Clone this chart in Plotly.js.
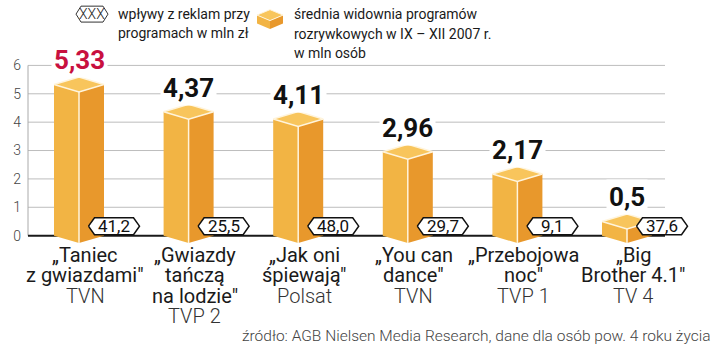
<!DOCTYPE html>
<html><head><meta charset="utf-8">
<script src="https://cdn.plot.ly/plotly-3.0.1.min.js"></script>
<style>html,body{margin:0;padding:0;background:#fff}</style>
</head><body><div id="chart" style="width:720px;height:351px"></div>
<script>
// ---- data ----
const programLines = [['„Taniec','z gwiazdami"'],['„Gwiazdy','tańczą','na lodzie"'],['„Jak oni','śpiewają"'],['„You can','dance"'],['„Przebojowa','noc"'],['„Big','Brother 4.1"']];
const stations = ['TVN','TVP 2','Polsat','TVN','TVP 1','TV 4'];
const audience = [5.33, 4.37, 4.11, 2.96, 2.17, 0.5];
const adRevenue = [41.2, 25.5, 48.0, 29.7, 9.1, 37.6];
const yTicks = [0, 1, 2, 3, 4, 5, 6];
const legendRevenue = ['wpływy z reklam przy', 'programach w mln zł'];
const legendAudience = ['średnia widownia programów', 'rozrywkowych w IX – XII 2007 r.', 'w mln osób'];
const sourceText = 'źródło: AGB Nielsen Media Research, dane dla osób pow. 4 roku życia';

// ---- geometry ----
const W = 720, H = 351;
const PL = 28, PR = 705, PT = 63.6, PB = 247.4;
const GRID_END = 665;
const xRange = [-0.4653, 5.7117], yRange = [-0.4, 6.05];
const pxX = (PR - PL) / (xRange[1] - xRange[0]);
const pxY = (PB - PT) / (yRange[1] - yRange[0]);
const hw = 25 / pxX, dy = 7.5 / pxY;
const FONT = 'Roboto, "Open Sans", sans-serif';
const C_TOP = '#F8C55C', C_LEFT = '#F2B444', C_RIGHT = '#E8982C', C_RED = '#C8103F', C_EDGE = '#FFF4DC';
const px2x = p => (p - PL) / (PR - PL);
const px2y = p => (PB - p) / (PB - PT);

const cats = audience.map((_, i) => i);

function polys(fn) {
  const xs = [], ys = [];
  cats.forEach((i) => {
    const pts = fn(i, audience[i]);
    pts.forEach(p => { xs.push(p[0]); ys.push(p[1]); });
    xs.push(null); ys.push(null);
  });
  return {x: xs, y: ys};
}
const leftF = polys((i, v) => [[i - hw, 0], [i - hw, v], [i, v - dy], [i, -dy]]);
const rightF = polys((i, v) => [[i, -dy], [i, v - dy], [i + hw, v], [i + hw, 0]]);
const topF = polys((i, v) => [[i - hw, v], [i, v + dy], [i + hw, v], [i, v - dy], [i - hw, v]]);
const frontE = polys((i, v) => [[i, -dy], [i, v - dy]]);

// hexagon badges (revenue), placed to the right of each bar
const hexOff = 35 / pxX, hexTip = 25.5 / pxX, hexSh = 19.5 / pxX;
const yc = 9.5 / pxY, hh = 8.5 / pxY;
const hexF = polys((i) => {
  const c = i + hexOff;
  return [[c - hexTip, yc], [c - hexSh, yc + hh], [c + hexSh, yc + hh], [c + hexTip, yc], [c + hexSh, yc - hh], [c - hexSh, yc - hh], [c - hexTip, yc]];
});

const traces = [
  {type: 'scatter', mode: 'lines', x: leftF.x, y: leftF.y, fill: 'toself', fillcolor: C_LEFT, line: {width: 0}, hoverinfo: 'skip', showlegend: false},
  {type: 'scatter', mode: 'lines', x: rightF.x, y: rightF.y, fill: 'toself', fillcolor: C_RIGHT, line: {width: 0}, hoverinfo: 'skip', showlegend: false},
  {type: 'scatter', mode: 'lines', x: frontE.x, y: frontE.y, line: {width: 1.5, color: C_EDGE}, hoverinfo: 'skip', showlegend: false},
  {type: 'scatter', mode: 'lines', x: topF.x, y: topF.y, fill: 'toself', fillcolor: C_TOP, line: {width: 1.5, color: C_EDGE}, hoverinfo: 'skip', showlegend: false},
  {type: 'scatter', mode: 'lines', x: hexF.x, y: hexF.y, fill: 'toself', fillcolor: '#fff', line: {width: 1.5, color: '#111'}, hoverinfo: 'skip', showlegend: false}
];

const shapes = [];
const annotations = [];

// gridlines (ending before the right margin), zero line, y axis line
yTicks.forEach(t => {
  if (t === 0) return;
  shapes.push({type: 'line', xref: 'paper', yref: 'y', x0: 0, x1: px2x(GRID_END), y0: t, y1: t, line: {color: '#bdbdbd', width: 1}, layer: 'below'});
});
shapes.push({type: 'line', xref: 'paper', yref: 'y', x0: 0, x1: 0, y0: 0, y1: 6, line: {color: '#aaa', width: 1}, layer: 'below'});
shapes.push({type: 'line', xref: 'paper', yref: 'y', x0: 0, x1: px2x(GRID_END), y0: 0, y1: 0, line: {color: '#1a1a1a', width: 2}, layer: 'below'});

// hexagon texts
cats.forEach(i => {
  annotations.push({x: i + hexOff, y: yc, xref: 'x', yref: 'y', text: adRevenue[i].toFixed(1).replace('.', ','), showarrow: false, xanchor: 'center', yanchor: 'middle', font: {family: FONT, size: 17, color: '#111'}});
});

// value labels
cats.forEach(i => {
  annotations.push({x: i, y: audience[i], xref: 'x', yref: 'y', yshift: 24, text: String(audience[i]).replace('.', ','), showarrow: false, xanchor: 'center', yanchor: 'middle', bgcolor: '#fff', borderpad: 2, font: {family: FONT, size: 26, weight: 700, color: i === 0 ? C_RED : '#111'}});
});

// category labels
cats.forEach(i => {
  const lines = programLines[i].concat([stations[i]]);
  lines.forEach((t, k) => {
    const isSt = k === lines.length - 1;
    annotations.push({x: i, y: 0, xref: 'x', yref: 'y', xshift: 6, yshift: -19 - 20.5 * k, text: t, showarrow: false, xanchor: 'center', yanchor: 'middle', font: {family: FONT, size: 20, weight: isSt ? 300 : 400, color: isSt ? '#333' : '#1a1a1a'}});
  });
});

// legend: hexagon icon
const hexPts = [[76, 13.5], [81, 5.5], [103, 5.5], [108, 13.5], [103, 21.5], [81, 21.5]];
shapes.push({type: 'path', xref: 'paper', yref: 'paper', path: 'M ' + hexPts.map(p => px2x(p[0]) + ',' + px2y(p[1])).join(' L ') + ' Z', fillcolor: '#fff', line: {color: '#333', width: 1}});
annotations.push({xref: 'paper', yref: 'paper', x: px2x(92), y: px2y(13.5), text: 'XXX', showarrow: false, xanchor: 'center', yanchor: 'middle', font: {family: FONT, size: 14, weight: 300, color: '#222'}});
legendRevenue.forEach((t, k) => {
  annotations.push({xref: 'paper', yref: 'paper', x: px2x(116), y: px2y(13 + 19 * k), text: t, showarrow: false, xanchor: 'left', yanchor: 'middle', font: {family: FONT, size: 14, color: '#1a1a1a'}});
});
// legend: cube icon
const cube = {
  top: [[257, 14.5], [270, 9], [283, 14.5], [270, 20]],
  left: [[257, 14.5], [270, 20], [270, 28.5], [257, 23]],
  right: [[270, 20], [283, 14.5], [283, 23], [270, 28.5]]
};
[['left', C_LEFT], ['right', C_RIGHT], ['top', C_TOP]].forEach(([k, c]) => {
  shapes.push({type: 'path', xref: 'paper', yref: 'paper', path: 'M ' + cube[k].map(p => px2x(p[0]) + ',' + px2y(p[1])).join(' L ') + ' Z', fillcolor: c, line: {color: C_EDGE, width: k === 'top' ? 1 : 0}});
});
legendAudience.forEach((t, k) => {
  annotations.push({xref: 'paper', yref: 'paper', x: px2x(292), y: px2y(13 + 20 * k), text: t, showarrow: false, xanchor: 'left', yanchor: 'middle', font: {family: FONT, size: 14, color: '#1a1a1a'}});
});
// source
annotations.push({xref: 'paper', yref: 'paper', x: px2x(712), y: px2y(337), text: sourceText, showarrow: false, xanchor: 'right', yanchor: 'middle', font: {family: FONT, size: 15.5, weight: 300, color: '#444'}});

const layout = {
  width: W, height: H,
  margin: {l: PL, r: W - PR, t: PT, b: H - PB, pad: 0},
  paper_bgcolor: '#fff', plot_bgcolor: '#fff',
  showlegend: false,
  xaxis: {range: xRange, showgrid: false, zeroline: false, showticklabels: false, ticks: '', showline: false, fixedrange: true},
  yaxis: {range: yRange, tickvals: yTicks, ticktext: yTicks.map(String), showgrid: false, zeroline: false,
          ticks: '', ticklabelstandoff: 6, showline: false,
          tickfont: {family: FONT, size: 14, weight: 300, color: '#444'}, fixedrange: true},
  shapes: shapes,
  annotations: annotations
};
Plotly.newPlot('chart', traces, layout, {displayModeBar: false, staticPlot: true});
</script>
</body></html>
